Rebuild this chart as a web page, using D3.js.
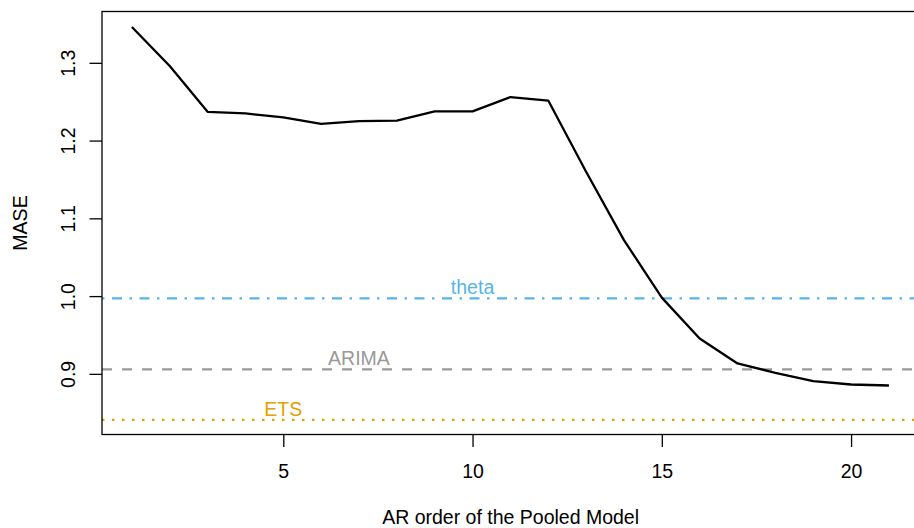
<!DOCTYPE html>
<html>
<head>
<meta charset="utf-8">
<script src="https://cdn.jsdelivr.net/npm/d3@7"></script>
<style>
  html, body { margin: 0; padding: 0; background: #fff; }
  svg { display: block; }
  text { font-family: "Liberation Sans", Arial, Helvetica, sans-serif; }
</style>
</head>
<body>
<svg id="chart" width="914" height="528"></svg>
<script>
// ---- data ----
const arOrder = [1, 2, 3, 4, 5, 6, 7, 8, 9, 10, 11, 12, 13, 14, 15, 16, 17, 18, 19, 20, 21];
const mase = [1.346, 1.296, 1.237, 1.2349, 1.2298, 1.2215, 1.225, 1.2257, 1.2375, 1.2375, 1.256, 1.2515,
              1.160, 1.072, 0.998, 0.9455, 0.9134, 0.9013, 0.8906, 0.8863, 0.885];
const benchNames = ["theta", "ARIMA", "ETS"];
const benchValues = [0.997, 0.9057, 0.8408];
const benchLabelAt = [10, 7, 5];
const benchColors = ["#56B4E9", "#999999", "#E69F00"];
const benchDash = ["2.5,7.5,10,7.5", "10,10", "2.5,7.5"];
const xTicks = [5, 10, 15, 20];
const yTicks = [0.9, 1.0, 1.1, 1.2, 1.3];
const xTitle = "AR order of the Pooled Model";
const yTitle = "MASE";

// ---- layout ----
const W = 914, H = 528;
const L = 102, R = 919.2, T = 11.5, B = 434.5;
const fs = 19.5;

const svg = d3.select("#chart");
const x = d3.scaleLinear().domain([0.2, 21.8]).range([101.6, 919.2]);
const y = d3.scaleLinear().domain([0.822, 1.366]).range([B, T]);

// clip for plot region
svg.append("defs").append("clipPath").attr("id", "plotclip")
  .append("rect").attr("x", L).attr("y", T).attr("width", R - L).attr("height", B - T);

const plot = svg.append("g").attr("clip-path", "url(#plotclip)");

// benchmark lines
benchValues.forEach((v, i) => {
  plot.append("line")
    .attr("x1", L).attr("x2", R)
    .attr("y1", y(v)).attr("y2", y(v))
    .attr("stroke", benchColors[i])
    .attr("stroke-width", 2.4)
    .attr("stroke-dasharray", benchDash[i]);
});

// main line
const line = d3.line().x((d, i) => x(arOrder[i])).y(d => y(d));
plot.append("path")
  .datum(mase)
  .attr("d", line)
  .attr("fill", "none")
  .attr("stroke", "#000")
  .attr("stroke-width", 2.3)
  .attr("stroke-linejoin", "round");

// benchmark labels
benchNames.forEach((n, i) => {
  svg.append("text")
    .attr("x", x(benchLabelAt[i]))
    .attr("y", y(benchValues[i]) - 4)
    .attr("text-anchor", "middle")
    .attr("font-size", fs)
    .attr("fill", benchColors[i])
    .text(n);
});

// frame
svg.append("rect")
  .attr("x", L).attr("y", T).attr("width", R - L).attr("height", B - T)
  .attr("fill", "none").attr("stroke", "#000").attr("stroke-width", 1.3);

// x axis
const gx = svg.append("g").attr("transform", `translate(0,${B})`)
  .call(d3.axisBottom(x).tickValues(xTicks).tickSize(12.5).tickFormat(d3.format("d")));
gx.select(".domain").remove();
gx.selectAll(".tick line").attr("stroke", "#000").attr("stroke-width", 1.3);
gx.selectAll(".tick text")
  .attr("y", 478 - B).attr("dy", null)
  .attr("font-size", fs).attr("font-family", "Liberation Sans, Arial, sans-serif")
  .attr("fill", "#000");

// y axis
const gy = svg.append("g").attr("transform", `translate(${L},0)`)
  .call(d3.axisLeft(y).tickValues(yTicks).tickSize(12.5).tickFormat(d3.format(".1f")));
gy.select(".domain").remove();
gy.selectAll(".tick line").attr("stroke", "#000").attr("stroke-width", 1.3);
gy.selectAll(".tick text")
  .attr("x", null).attr("dy", null)
  .attr("transform", `translate(${75 - L},0) rotate(-90)`)
  .attr("text-anchor", "middle")
  .attr("font-size", fs).attr("font-family", "Liberation Sans, Arial, sans-serif")
  .attr("fill", "#000");

// titles
svg.append("text")
  .attr("x", (L + R) / 2).attr("y", 523.5)
  .attr("text-anchor", "middle").attr("font-size", fs).attr("fill", "#000")
  .text(xTitle);
svg.append("text")
  .attr("transform", `translate(26.7,${(T + B) / 2}) rotate(-90)`)
  .attr("text-anchor", "middle").attr("font-size", fs).attr("fill", "#000")
  .text(yTitle);
</script>
</body>
</html>
